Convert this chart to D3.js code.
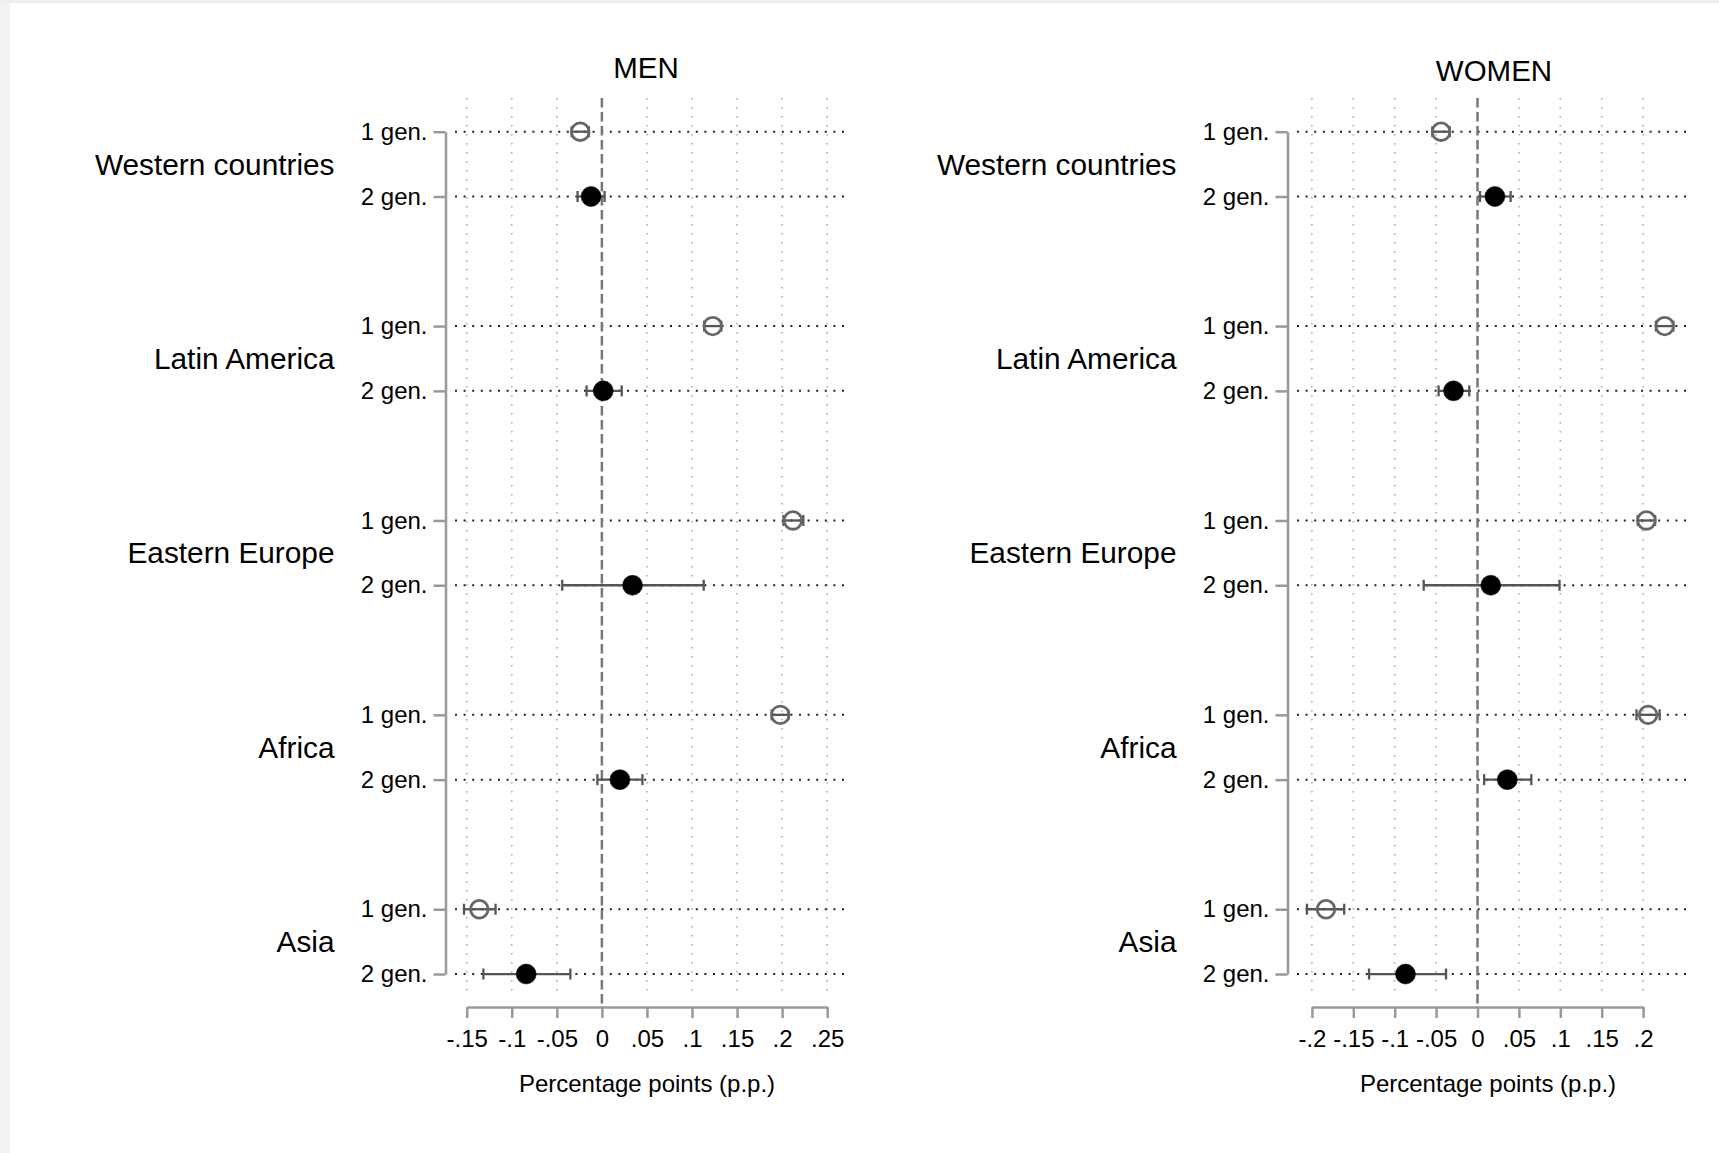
<!DOCTYPE html>
<html>
<head>
<meta charset="utf-8">
<script src="https://cdn.jsdelivr.net/npm/d3@7"></script>
<style>
  body { margin: 0; background: #fff; }
  text { font-family: "Liberation Sans", Arial, Helvetica, sans-serif; fill: #000; }
</style>
</head>
<body>
<div id="chart"></div>
<script>
var W = 1719, H = 1153

// data
var groups = ["Western countries", "Latin America", "Eastern Europe", "Africa", "Asia"]
var gens = ["1 gen.", "2 gen."]

var menCoef1 = [-0.024, 0.123, 0.212, 0.198, -0.136]
var menLo1   = [-0.0335, 0.1135, 0.2015, 0.1885, -0.153]
var menHi1   = [-0.0145, 0.1325, 0.2235, 0.207, -0.118]
var menCoef2 = [-0.012, 0.0015, 0.034, 0.020, -0.084]
var menLo2   = [-0.027, -0.017, -0.044, -0.005, -0.1315]
var menHi2   = [0.003, 0.022, 0.113, 0.045, -0.035]

var womenCoef1 = [-0.044, 0.226, 0.204, 0.206, -0.183]
var womenLo1   = [-0.0545, 0.2155, 0.1935, 0.192, -0.206]
var womenHi1   = [-0.0335, 0.2365, 0.2145, 0.220, -0.161]
var womenCoef2 = [0.021, -0.029, 0.016, 0.036, -0.087]
var womenLo2   = [0.003, -0.047, -0.065, 0.008, -0.131]
var womenHi2   = [0.040, -0.010, 0.099, 0.065, -0.038]

var menTicks = [-0.15, -0.1, -0.05, 0, 0.05, 0.1, 0.15, 0.2, 0.25]
var womenTicks = [-0.2, -0.15, -0.1, -0.05, 0, 0.05, 0.1, 0.15, 0.2]

var svg = d3.select("#chart").append("svg")
  .attr("width", W)
  .attr("height", H)

// faint frame on the left / top edge
svg.append("rect").attr("x", 0).attr("y", 0).attr("width", 10).attr("height", H).attr("fill", "#f3f3f3")
svg.append("rect").attr("x", 0).attr("y", 0).attr("width", W).attr("height", 3).attr("fill", "#eeeeee")

// rows: two per group, two empty slots between groups
var y = d3.scaleLinear().domain([-0.52, 13.37]).range([98, 998])
function rowU(g, k) { return g * 3 + k }

function fmt(v) {
  if (Math.abs(v) < 1e-9) return "0"
  return String(+v.toFixed(2)).replace("0.", ".")
}

function panel(opt) {
  var x = d3.scaleLinear().domain(opt.domain).range(opt.range)
  var axisX = opt.range[0] - 9.5
  var g = svg.append("g")

  var rows = []
  groups.forEach(function(name, i) {
    rows.push({ u: rowU(i, 0), gen: 0, c: opt.c1[i], lo: opt.lo1[i], hi: opt.hi1[i] })
    rows.push({ u: rowU(i, 1), gen: 1, c: opt.c2[i], lo: opt.lo2[i], hi: opt.hi2[i] })
  })

  // vertical grid
  g.selectAll(".vgrid")
    .data(opt.ticks.filter(function(t) { return t !== 0 }))
    .enter().append("line")
      .attr("x1", function(d) { return x(d) })
      .attr("x2", function(d) { return x(d) })
      .attr("y1", y.range()[0])
      .attr("y2", y.range()[1])
      .attr("stroke", "#aaa")
      .attr("stroke-width", 1.6)
      .attr("stroke-dasharray", "1.6,7.4")

  // horizontal dotted row lines
  g.selectAll(".hgrid")
    .data(rows)
    .enter().append("line")
      .attr("x1", opt.range[0])
      .attr("x2", opt.range[1])
      .attr("y1", function(d) { return y(d.u) })
      .attr("y2", function(d) { return y(d.u) })
      .attr("stroke", "#222")
      .attr("stroke-width", 2)
      .attr("stroke-dasharray", "2,6.6")

  // zero reference line
  g.append("line")
    .attr("x1", x(0)).attr("x2", x(0))
    .attr("y1", 98).attr("y2", 1007)
    .attr("stroke", "#777")
    .attr("stroke-width", 2.5)
    .attr("stroke-dasharray", "9.5,4.5")

  // x axis
  var xa = x.copy().domain([opt.ticks[0], opt.ticks[opt.ticks.length - 1]])
    .range([x(opt.ticks[0]), x(opt.ticks[opt.ticks.length - 1])])
  var gx = g.append("g")
    .attr("transform", "translate(0,1007)")
    .call(d3.axisBottom(xa).tickValues(opt.ticks).tickFormat(fmt)
      .tickSize(11).tickSizeOuter(0).tickPadding(12))
  gx.select(".domain").attr("stroke", "#999").attr("stroke-width", 2.5)
  gx.selectAll(".tick line").attr("stroke", "#999").attr("stroke-width", 2.5)
  gx.selectAll(".tick text").style("font-size", "24px").attr("fill", "#000")
    .style("font-family", "'Liberation Sans', Arial, sans-serif")

  g.append("text")
    .attr("x", (opt.range[0] + opt.range[1]) / 2 - 4)
    .attr("y", 1092)
    .attr("text-anchor", "middle")
    .style("font-size", "24px")
    .text("Percentage points (p.p.)")

  // y axis
  var ya = y.copy().domain([0, 13]).range([y(0), y(13)])
  var gy = g.append("g")
    .attr("transform", "translate(" + axisX + ",0)")
    .call(d3.axisLeft(ya).tickValues(rows.map(function(d) { return d.u }))
      .tickFormat(function(u) { return gens[u % 3] })
      .tickSize(12).tickSizeOuter(0).tickPadding(6))
  gy.select(".domain").attr("stroke", "#999").attr("stroke-width", 2.5)
  gy.selectAll(".tick line").attr("stroke", "#999").attr("stroke-width", 2.5)
  gy.selectAll(".tick text").style("font-size", "24px").attr("fill", "#000")
    .style("font-family", "'Liberation Sans', Arial, sans-serif")

  // group labels
  g.selectAll(".grp")
    .data(groups)
    .enter().append("text")
      .attr("x", axisX - 111)
      .attr("y", function(d, i) { return (y(rowU(i, 0)) + y(rowU(i, 1))) / 2 })
      .attr("dy", "0.35em")
      .attr("text-anchor", "end")
      .style("font-size", "29.8px")
      .text(function(d) { return d })

  // confidence intervals
  var ci = g.selectAll(".ci").data(rows).enter().append("g")
    .attr("stroke", "#555").attr("stroke-width", 2.3)
  ci.append("line")
    .attr("x1", function(d) { return x(d.lo) })
    .attr("x2", function(d) { return x(d.hi) })
    .attr("y1", function(d) { return y(d.u) })
    .attr("y2", function(d) { return y(d.u) })
  ci.append("line")
    .attr("x1", function(d) { return x(d.lo) })
    .attr("x2", function(d) { return x(d.lo) })
    .attr("y1", function(d) { return y(d.u) - 5.5 })
    .attr("y2", function(d) { return y(d.u) + 5.5 })
  ci.append("line")
    .attr("x1", function(d) { return x(d.hi) })
    .attr("x2", function(d) { return x(d.hi) })
    .attr("y1", function(d) { return y(d.u) - 5.5 })
    .attr("y2", function(d) { return y(d.u) + 5.5 })

  // point estimates
  g.selectAll(".pt")
    .data(rows)
    .enter().append("circle")
      .attr("cx", function(d) { return x(d.c) })
      .attr("cy", function(d) { return y(d.u) })
      .attr("r", function(d) { return d.gen === 0 ? 8.8 : 10 })
      .attr("fill", function(d) { return d.gen === 0 ? "none" : "#000" })
      .attr("stroke", function(d) { return d.gen === 0 ? "#666" : "#000" })
      .attr("stroke-width", function(d) { return d.gen === 0 ? 2.8 : 0.5 })

  // panel title
  g.append("text")
    .attr("x", (opt.range[0] + opt.range[1]) / 2 + opt.titleDx)
    .attr("y", opt.titleY)
    .attr("text-anchor", "middle")
    .style("font-size", "29.5px")
    .text(opt.title)
}

panel({
  title: "MEN", titleY: 78, titleDx: -5,
  domain: [-0.163, 0.272], range: [455, 847],
  ticks: menTicks,
  c1: menCoef1, lo1: menLo1, hi1: menHi1,
  c2: menCoef2, lo2: menLo2, hi2: menHi2
})

panel({
  title: "WOMEN", titleY: 81, titleDx: 2,
  domain: [-0.218, 0.253], range: [1297, 1687],
  ticks: womenTicks,
  c1: womenCoef1, lo1: womenLo1, hi1: womenHi1,
  c2: womenCoef2, lo2: womenLo2, hi2: womenHi2
})
</script>
</body>
</html>
